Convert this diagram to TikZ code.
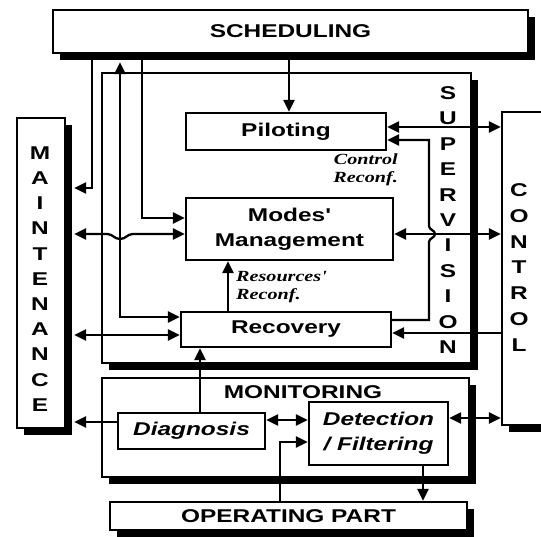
\documentclass[tikz,border=0pt]{standalone}
\usepackage{fontspec}
\newfontfamily\hv[FakeStretch=1.32]{Liberation Sans}
\newfontfamily\tms[FakeStretch=1.3]{Liberation Serif}
\usetikzlibrary{arrows.meta,shadows}
\begin{document}
\begin{tikzpicture}[x=1pt,y=-1pt,
  ln/.style={line width=2.3pt},
  box/.style={draw, line width=2.3pt, fill=white, inner sep=0pt, align=center,
    font=\hv\bfseries\fontsize{18.5}{25}\selectfont},
  sbox/.style={box, drop shadow={shadow xshift=7pt, shadow yshift=-7pt, fill=black, opacity=1}},
  arr/.style={ln, -{Triangle[length=12pt,width=11pt]}},
  darr/.style={ln, {Triangle[length=12pt,width=11pt]}-{Triangle[length=12pt,width=11pt]}},
  ital/.style={font=\tms\bfseries\itshape\fontsize{15.5}{18}\selectfont, inner sep=0pt},
  vert/.style={align=center, inner sep=0pt}
]
\useasboundingbox (0,0) rectangle (541,537);
\clip (0,0) rectangle (541,537);

% big boxes
\node[sbox, minimum width=369pt, minimum height=290pt] (superv) at (286.5,218) {};
\node[sbox, minimum width=367pt, minimum height=99pt] (monit) at (285.5,427.5) {};
\node[sbox, minimum width=475pt, minimum height=43pt] (sched) at (290.5,31.5) {SCHEDULING};
\node[sbox, minimum width=48pt, minimum height=310pt] (maint) at (41,273) {};
\node[sbox, minimum width=90pt, minimum height=313pt] (ctrl) at (547,268.5) {};
\node[sbox, minimum width=357pt, minimum height=28pt] (oppart) at (288.5,516) {OPERATING PART};

% inner boxes
\node[box, minimum width=200pt, minimum height=37pt] (pilot) at (286,131.5) {Piloting};
\node[box, minimum width=207pt, minimum height=62pt] (modes) at (289.5,229) {Modes'\\Management};
\node[box, minimum width=210pt, minimum height=35pt] (recov) at (286,329.5) {Recovery};
\node[box, minimum width=147pt, minimum height=36pt, font=\hv\bfseries\itshape\fontsize{18.5}{25}\selectfont] (diag) at (191.5,431) {Diagnosis};
\node[box, minimum width=139pt, minimum height=63pt, font=\hv\bfseries\itshape\fontsize{18.5}{25}\selectfont] (detect) at (378.5,433.5) {Detection\\/ Filtering};

% labels
\node[inner sep=0pt, font=\hv\bfseries\fontsize{18.5}{25}\selectfont] (monlab) at (303,392) {MONITORING};
\node[vert, font=\hv\bfseries\fontsize{18.5}{25.4}\selectfont] (suplab) at (448,220) {S\\U\\P\\E\\R\\V\\I\\S\\I\\O\\N};
\node[vert, font=\hv\bfseries\fontsize{18.5}{25.2}\selectfont] (mainlab) at (40,279) {M\\A\\I\\N\\T\\E\\N\\A\\N\\C\\E};
\node[vert, font=\hv\bfseries\fontsize{18.5}{25.8}\selectfont] (ctrllab) at (519,267.5) {C\\O\\N\\T\\R\\O\\L};
\node[ital, anchor=east, align=right] (ctrlreconf) at (398,170) {Control\\Reconf.};
\node[ital, anchor=west, align=left] (resreconf) at (236,287) {Resources'\\Reconf.};

% helper coordinates at shadow edges
\coordinate (mR) at ([xshift=8pt]maint.east);
\coordinate (sB) at ([yshift=-8pt]sched.south);

% connectors
\draw[arr] (289,0 |- sched.south) -- (289,0 |- pilot.north);
\draw[arr] (92,0 |- sched.south) |- (mR |- 0,188);
\draw[darr] (120,0 |- sB) |- (recov.west |- 0,317);
\draw[arr] (142,0 |- sched.south) |- (modes.west |- 0,218);
\draw[darr] (mR |- 0,234) -- (107,234) .. controls (113,234) and (114,239) .. (120,239)
  .. controls (126,239) and (127,234) .. (133,234) -- (modes.west |- 0,234);
\draw[darr] (mR |- 0,335) -- (recov.west |- 0,335);
\draw[darr] (modes.east |- 0,234) -- (ctrl.west |- 0,234);
\draw[darr] (pilot.east |- 0,127) -- (ctrl.west |- 0,127);
\draw[arr] (recov.east |- 0,320) -- (429,320) -- (429,242)
  .. controls (429,238) and (435,238) .. (435,234)
  .. controls (435,230) and (429,230) .. (429,226) -- (429,140) -- (pilot.east |- 0,140);
\draw[arr] (ctrl.west |- 0,333) -- (recov.east |- 0,333);
\draw[arr] (228,0 |- recov.north) -- (228,0 |- modes.south);
\draw[arr] (200,0 |- diag.north) -- (200,0 |- recov.south);
\draw[arr] (diag.west |- 0,422) -- (mR |- 0,422);
\draw[darr] (diag.east |- 0,420) -- (detect.west |- 0,420);
\draw[arr] (280,0 |- oppart.north) |- (detect.west |- 0,442);
\draw[arr] (423,0 |- detect.south) -- (423,0 |- oppart.north);
\draw[darr] (detect.east |- 0,418) -- (ctrl.west |- 0,418);
\end{tikzpicture}
\end{document}
